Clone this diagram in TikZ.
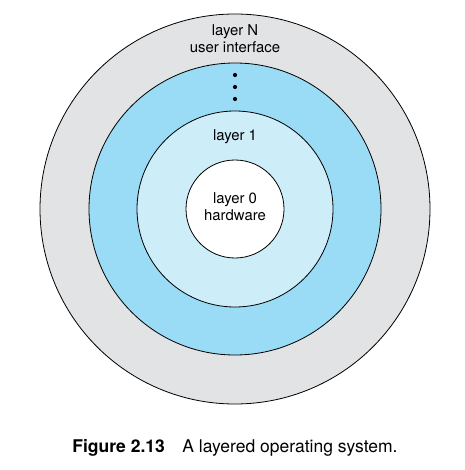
\documentclass[tikz,border=0pt]{standalone}
\usepackage{fontspec}
\setmainfont{TeX Gyre Heros}
\definecolor{ringgray}{HTML}{E2E3E5}
\definecolor{ringblue}{HTML}{9ADBF6}
\definecolor{ringpale}{HTML}{CDEDF9}
\tikzset{lbl/.style={anchor=base,inner sep=0pt,font=\fontsize{14.9}{17}\selectfont}}
\begin{document}
\begin{tikzpicture}[x=1pt,y=-1pt]
\useasboundingbox (0,0) rectangle (464,470);
\coordinate (c) at (235,209);
%rings
\foreach \r/\col in {195/ringgray,146/ringblue,98/ringpale,49/white}{\draw[line width=0.8pt,fill=\col](c) circle (\r pt);}
%labels
\node[lbl] (layerN) at (235,36){layer N};
\node[lbl] (ui) at (235,52.7){user interface};
\foreach \y in {75,87,99}{\fill (235,\y) circle (2.1pt);}
\node[lbl] (layer1) at (235,141){layer 1};
\node[lbl] (layer0) at (235,203){layer 0};
\node[lbl] (hw) at (235,220){hardware};
%caption
\node[anchor=base,inner sep=0pt,font=\fontsize{17.5}{20}\selectfont] (cap) at (235,452.5){\textbf{Figure 2.13}\quad A layered operating system.};
\end{tikzpicture}
\end{document}
